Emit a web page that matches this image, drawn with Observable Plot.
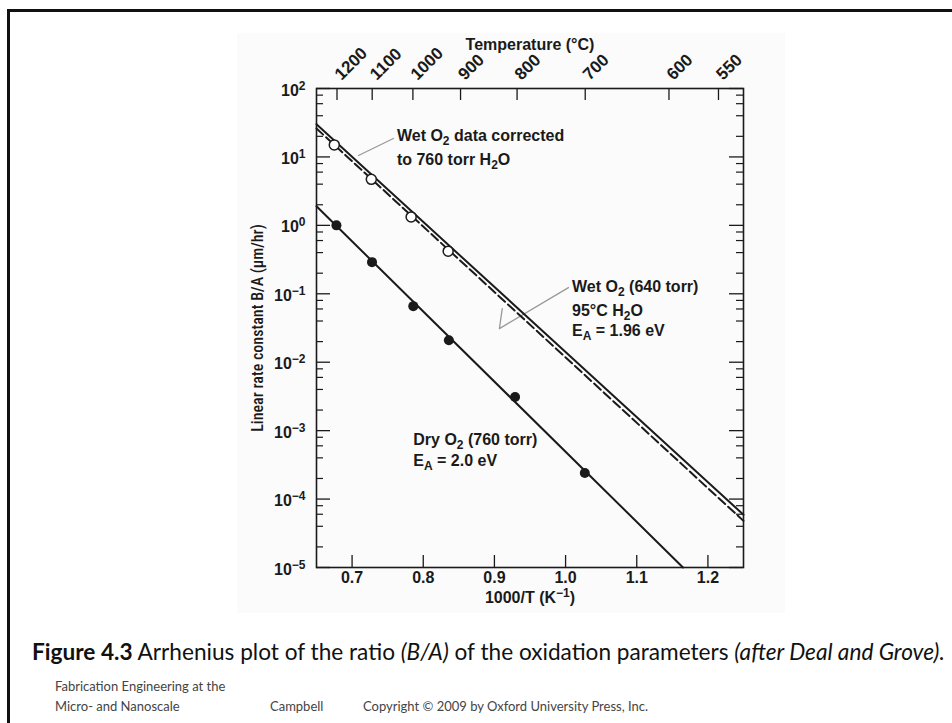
<!DOCTYPE html>
<html><head><meta charset="utf-8">
<script src="https://cdn.jsdelivr.net/npm/d3@7"></script>
<script src="https://cdn.jsdelivr.net/npm/@observablehq/plot@0.6"></script>
<style>
body{margin:0;background:#fff;width:952px;height:723px;overflow:hidden;position:relative;font-family:Lato,"Open Sans",sans-serif;}
#frame{position:absolute;left:7px;top:9px;width:960px;height:800px;border-top:3px solid #111;border-left:3px solid #111;}
#chart{position:absolute;left:237px;top:33px;}
#caption{position:absolute;left:32px;top:641px;font-size:18px;line-height:22px;color:#111;white-space:nowrap;}
.foot{position:absolute;font-size:13px;line-height:20px;color:#444;white-space:nowrap;}
</style></head>
<body>
<div id="frame"></div>
<div id="chart"></div>
<div id="caption"><b>Figure 4.3</b> Arrhenius plot of the ratio <i>(B/A)</i> of the oxidation parameters <i>(after Deal and Grove).</i></div>
<div class="foot" style="left:55px;top:676px">Fabrication Engineering at the<br>Micro- and Nanoscale</div>
<div class="foot" style="left:270px;top:696px">Campbell</div>
<div class="foot" style="left:363px;top:696px">Copyright © 2009 by Oxford University Press, Inc.</div>
<script>
// ---- data ----
const dryInvT = [0.678, 0.728, 0.786, 0.836, 0.929, 1.027];
const dryBA   = [1.0, 0.29, 0.066, 0.021, 0.0031, 0.00024];
const wetInvT = [0.675, 0.727, 0.783, 0.835];
const wetBA   = [15, 4.7, 1.33, 0.42];
const dryFitInvT = [0.65, 1.165];
const dryFitBA   = [1.9, 1e-5];
const wetFitInvT = [0.65, 1.25];
const wetFitBA   = [30, 5.9e-5];
const wetCorrInvT = [0.65, 1.25];
const wetCorrBA   = [26, 4.8e-5];
const xDomain = [0.65, 1.25];
const yDomain = [1e-5, 1e2];
const xTicks = [0.7, 0.8, 0.9, 1.0, 1.1, 1.2];
const yDecades = [1e-5, 1e-4, 1e-3, 1e-2, 1e-1, 1e0, 1e1, 1e2];
const yMinorMult = [2, 4, 6, 8];
const tempTicksC = [1200, 1100, 1000, 900, 800, 700, 600, 550];
const noteText = ["Wet O_{2} data corrected", "to 760 torr H_{2}O",
                  "Wet O_{2} (640 torr)", "95°C H_{2}O", "E_{A} = 1.96 eV",
                  "Dry O_{2} (760 torr)", "E_{A} = 2.0 eV"];
const noteInvT = [0.763, 0.763, 1.009, 1.009, 1.009, 0.786, 0.786];
const noteBA   = [20.6, 9.2, 0.1245, 0.0568, 0.029, 7.3e-4, 3.56e-4];
const leader1InvT = [0.709, 0.758];
const leader1BA   = [10.5, 18.6];
const leader2InvT = [1.004, 0.907, 0.911];
const leader2BA   = [0.123, 0.031, 0.0608];

// ---- build tables ----
const zip = (xs, ys) => xs.map((x, i) => ({x, y: ys[i]}));
const dry = zip(dryInvT, dryBA), wet = zip(wetInvT, wetBA);
const dryFit = zip(dryFitInvT, dryFitBA), wetFit = zip(wetFitInvT, wetFitBA), wetCorr = zip(wetCorrInvT, wetCorrBA);
const notes = noteText.map((t, i) => ({t, x: noteInvT[i], y: noteBA[i]}));
const leader1 = zip(leader1InvT, leader1BA), leader2 = zip(leader2InvT, leader2BA);
const yMinor = yDecades.slice(0, -1).flatMap(d => yMinorMult.map(m => d * m));
const sup = d => { const e = Math.round(Math.log10(d)); return "10^{" + (e < 0 ? "\u2212" + (-e) : e) + "}"; };

const W = 548, H = 580, mL = 79, mR = 42, mT = 55, mB = 46;
const pW = W - mL - mR, pH = H - mT - mB;
const ink = "#1a1a1a";
const F = "Liberation Sans, Arial, sans-serif";
const FN = "Roboto Condensed, Liberation Sans, sans-serif";
const T = (o) => Object.assign({fontFamily: F, fontWeight: "bold", fill: ink}, o);

const svg = Plot.plot({
  width: W, height: H,
  marginLeft: mL, marginRight: mR, marginTop: mT, marginBottom: mB,
  style: {background: "#fbfbfb", fontFamily: F, color: ink, overflow: "visible"},
  x: {domain: xDomain, axis: null},
  y: {type: "log", domain: yDomain, axis: null},
  marks: [
    Plot.ruleY(yDecades, {y: d => d, insetRight: pW - 14, stroke: ink, strokeWidth: 1.3}),
    Plot.ruleY(yMinor, {y: d => d, insetRight: pW - 7, stroke: ink, strokeWidth: 1.2}),
    Plot.ruleY(yDecades, {y: d => d, insetLeft: pW - 14, stroke: ink, strokeWidth: 1.3}),
    Plot.ruleY(yMinor, {y: d => d, insetLeft: pW - 7, stroke: ink, strokeWidth: 1.2}),
    Plot.ruleX(xTicks, {x: d => d, insetTop: pH - 12, stroke: ink, strokeWidth: 1.3}),
    Plot.ruleX(tempTicksC, {x: t => 1000 / (t + 273.15), insetBottom: pH - 12, stroke: ink, strokeWidth: 1.3}),
    Plot.frame({stroke: ink, strokeWidth: 1.6}),
    Plot.text(yDecades, T({y: d => d, text: sup, frameAnchor: "left", textAnchor: "end", dx: -11, dy: 2, fontSize: 16})),
    Plot.text(xTicks, T({x: d => d, text: d => d.toFixed(1), frameAnchor: "bottom", textAnchor: "middle", lineAnchor: "top", dy: 4, fontSize: 16})),
    Plot.text(["1000/T (K^{\u22121})"], T({frameAnchor: "bottom", textAnchor: "middle", lineAnchor: "top", dy: 24, fontSize: 16})),
    Plot.text(tempTicksC, T({x: t => 1000 / (t + 273.15), text: t => String(t), frameAnchor: "top", textAnchor: "start", rotate: -45, dy: -16, dx: -4, fontSize: 17})),
    Plot.text(["Temperature (°C)"], T({frameAnchor: "top", textAnchor: "middle", dy: -50, fontSize: 16})),
    Plot.text(["Linear rate constant B/A (\u03bcm/hr)"], T({frameAnchor: "left", textAnchor: "middle", rotate: -90, dx: -59, fontSize: 16, fontFamily: FN, fontWeight: 500})),
    Plot.line(leader1, {x: "x", y: "y", stroke: "#999", strokeWidth: 1.3}),
    Plot.line(leader2, {x: "x", y: "y", stroke: "#999", strokeWidth: 1.3}),
    Plot.line(dryFit, {x: "x", y: "y", stroke: ink, strokeWidth: 2}),
    Plot.line(wetFit, {x: "x", y: "y", stroke: ink, strokeWidth: 2}),
    Plot.line(wetCorr, {x: "x", y: "y", stroke: ink, strokeWidth: 2, strokeDasharray: "9,4"}),
    Plot.dot(dry, {x: "x", y: "y", r: 5, fill: ink, stroke: "none"}),
    Plot.dot(wet, {x: "x", y: "y", r: 5, fill: "#fff", stroke: ink, strokeWidth: 1.5}),
    Plot.text(notes, T({x: "x", y: "y", text: "t", textAnchor: "start", fontSize: 16}))
  ]
});

// sub/superscripts encoded as _{..} and ^{..}
svg.querySelectorAll("text").forEach(t => {
  const s = t.textContent;
  if (!/[_^]\{/.test(s)) return;
  t.textContent = "";
  let shift = 0;
  s.split(/([_^]\{[^}]*\})/).forEach(p => {
    if (!p) return;
    const ts = document.createElementNS("http://www.w3.org/2000/svg", "tspan");
    if (p[1] === "{" && (p[0] === "_" || p[0] === "^")) {
      const d = p[0] === "_" ? 4 : -6;
      ts.textContent = p.slice(2, -1);
      ts.setAttribute("dy", String(d - shift));
      ts.setAttribute("font-size", "12");
      shift = d;
    } else {
      ts.textContent = p;
      if (shift) { ts.setAttribute("dy", String(-shift)); shift = 0; }
    }
    t.appendChild(ts);
  });
});
document.getElementById("chart").appendChild(svg);

// fit caption width to the reference span
const cap = document.getElementById("caption");
const w = cap.getBoundingClientRect().width;
cap.style.fontSize = (18 * 913 / w).toFixed(2) + "px";
</script>
</body></html>
